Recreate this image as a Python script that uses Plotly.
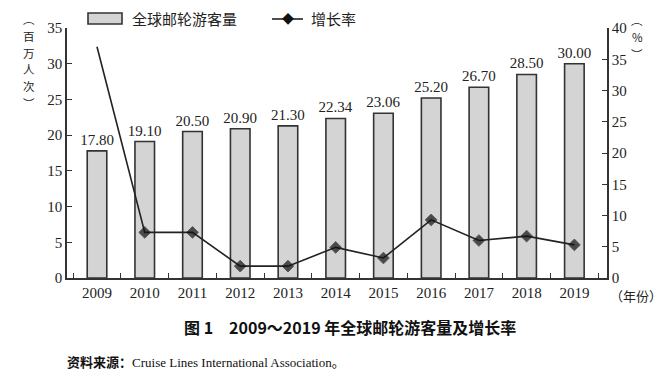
import plotly.graph_objects as go

years = ["2009", "2010", "2011", "2012", "2013", "2014", "2015", "2016", "2017", "2018", "2019"]
passengers = [17.80, 19.10, 20.50, 20.90, 21.30, 22.34, 23.06, 25.20, 26.70, 28.50, 30.00]
growth = [37.0, 7.3, 7.3, 1.9, 1.9, 4.9, 3.2, 9.3, 6.0, 6.7, 5.3]
marker_sizes = [0] + [9] * (len(years) - 1)
left_title = ["︵", "百", "万", "人", "次", "︶"]
right_title = ["︵", "%", "︶"]

FONT = "Liberation Serif, Noto Sans CJK SC, serif"
CJK = "Noto Sans CJK SC, sans-serif"
INK = "#333333"

fig = go.Figure()
fig.add_trace(go.Bar(
    x=years, y=passengers, width=0.41,
    marker=dict(color="#d4d4d4", line=dict(color=INK, width=1.6)),
    texttemplate="%{y:.2f}", textposition="outside", constraintext="none",
    textfont=dict(family=FONT, size=15, color="#222"),
    cliponaxis=False, showlegend=False,
))
fig.add_trace(go.Scatter(
    x=years, y=growth, yaxis="y2", mode="lines+markers",
    line=dict(color="#222", width=1.6),
    marker=dict(symbol="diamond", size=marker_sizes, color="#111"),
    showlegend=False, cliponaxis=False,
))

# page body has an 8px margin; figure sized/offset to land on window pixels
OFF = 8
W, H = 670 - OFF, 380 - OFF
L, R, T, B = 67 - OFF, 63, 28 - OFF, 102
pw, ph = W - L - R, H - T - B

def px(x):
    return (x - OFF - L) / pw

def py(y):
    return (H - B - (y - OFF)) / ph

axis_common = dict(showgrid=False, zeroline=False, showline=True, linecolor=INK, linewidth=1.5,
                   ticks="inside", ticklen=5, tickcolor=INK,
                   tickfont=dict(family=FONT, size=15, color="#222"))

fig.update_layout(
    width=W, height=H, margin=dict(l=L, r=R, t=T, b=B),
    plot_bgcolor="white", paper_bgcolor="white",
    bargap=0.59,
    xaxis=dict(type="category", tickson="boundaries", **axis_common),
    yaxis=dict(range=[0, 35], dtick=5, **axis_common),
    yaxis2=dict(range=[0, 40], dtick=5, overlaying="y", side="right", **axis_common),
)

shapes = [
    dict(type="rect", xref="paper", yref="paper", x0=px(88), x1=px(122), y0=py(24), y1=py(13),
         fillcolor="#d4d4d4", line=dict(color=INK, width=1.6)),
    dict(type="line", xref="paper", yref="paper", x0=px(272), x1=px(303), y0=py(19), y1=py(19),
         line=dict(color="#222", width=1.6)),
]
fig.update_layout(shapes=shapes)

ann = [
    dict(x=px(130), y=py(19), text="全球邮轮游客量", xanchor="left", yanchor="middle",
         font=dict(family=CJK, size=15, color="#222")),
    dict(x=px(287.5), y=py(19), text="◆", xanchor="center", yanchor="middle",
         font=dict(family=CJK, size=12, color="#111")),
    dict(x=px(309), y=py(19), text="增长率", xanchor="left", yanchor="middle",
         font=dict(family=CJK, size=15, color="#222")),
    dict(x=px(608), y=py(295), text="（年份）", xanchor="left", yanchor="middle",
         font=dict(family=CJK, size=13, color="#222")),
    dict(x=px(350), y=py(327), text="<b>图 1　2009～2019 年全球邮轮游客量及增长率</b>", xanchor="center", yanchor="middle",
         font=dict(family=CJK, size=16, color="#111")),
    dict(x=px(65), y=py(362), text="<b>资料来源：</b>Cruise Lines International Association。", xanchor="left", yanchor="middle",
         font=dict(family="Liberation Serif, Noto Sans CJK SC, serif", size=13, color="#111")),
]
step = 16.9
for i, ch in enumerate(left_title):
    ann.append(dict(x=px(29), y=py(61 + (i - 2.5) * step), text=ch, xanchor="center", yanchor="middle",
                    font=dict(family=CJK, size=11.5, color="#222")))
for i, ch in enumerate(right_title):
    ann.append(dict(x=px(637), y=py(37 + (i - 1) * step), text=ch, xanchor="center", yanchor="middle",
                    font=dict(family=CJK, size=11.5, color="#222")))
for a in ann:
    a.update(xref="paper", yref="paper", showarrow=False)
fig.update_layout(annotations=ann)

fig.write_html("out.html")
